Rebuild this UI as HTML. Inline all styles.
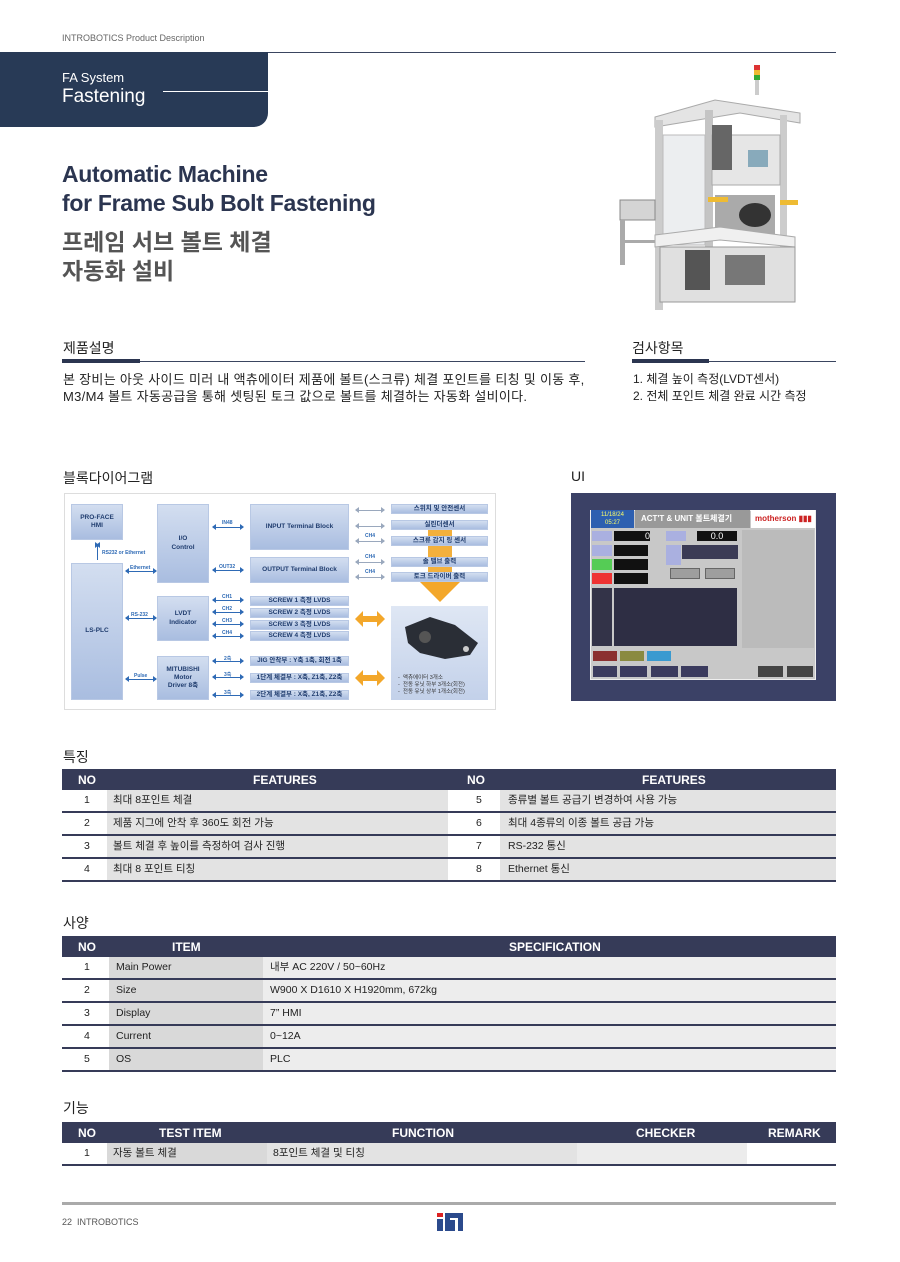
<!DOCTYPE html>
<html><head><meta charset="utf-8">
<style>
*{margin:0;padding:0;box-sizing:border-box}
body{width:900px;height:1262px;background:#fff;position:relative;overflow:hidden;font-family:"Liberation Sans","Noto Sans CJK KR",sans-serif;color:#222}
.a{position:absolute}
.h2{font-size:14px;color:#222}
.tb{position:absolute;left:62px;width:774px}
.th{background:#363b58;color:#fff;font-weight:bold;font-size:12px;height:21px;position:relative}
.th span{position:absolute;top:4px}
.row{position:relative;height:23px;border-bottom:2px solid #363b58;font-size:10.5px}
.row div{position:absolute;top:0;height:21px;line-height:21px}
.bx{position:absolute;background:linear-gradient(#d3def0,#a9bde0);border:1px solid #b8c8e4;color:#1f3c6e;font-weight:bold;font-size:6.5px;display:flex;align-items:center;justify-content:center;text-align:center;line-height:1.25}
.ar{position:absolute;height:1px;background:#2e6ab5}
.ar:before{content:"";position:absolute;left:-1px;top:-3px;border:3px solid transparent;border-right:4px solid #2e6ab5;border-left:0}
.ar:after{content:"";position:absolute;right:-1px;top:-3px;border:3px solid transparent;border-left:4px solid #2e6ab5;border-right:0}
.ag{background:#9aa8bd}
.ag:before{border-right-color:#9aa8bd}.ag:after{border-left-color:#9aa8bd}
.lb{position:absolute;font-size:5px;color:#2e6ab5;font-weight:bold}
.g{position:absolute;background:#9e9e9e;border:1px solid #666}
</style></head><body>

<div class="a" style="left:62px;top:33px;font-size:9px;color:#666">INTROBOTICS Product Description</div>
<div class="a" style="left:268px;top:52px;width:568px;height:1px;background:#3a4560"></div>
<div class="a" style="left:0;top:52px;width:268px;height:75px;background:#283a56;border-bottom-right-radius:14px"></div>
<div class="a" style="left:62px;top:70px;font-size:13px;color:#fff">FA System</div>
<div class="a" style="left:62px;top:86px;font-size:19px;color:#fff">Fastening</div>
<div class="a" style="left:163px;top:91px;width:105px;height:1px;background:#fff"></div>

<div class="a" style="left:62px;top:160px;font-size:23px;line-height:29px;color:#2b3550;font-weight:bold;letter-spacing:-0.3px">Automatic Machine<br>for Frame Sub Bolt Fastening</div>
<div class="a" style="left:62px;top:228px;font-size:23px;line-height:29px;color:#555;font-weight:bold">프레임 서브 볼트 체결<br>자동화 설비</div>

<!-- machine -->
<svg class="a" style="left:600px;top:55px" width="210" height="270">
<rect x="155" y="10" width="4" height="30" fill="#ccc"/><rect x="154" y="10" width="6" height="5" fill="#d33"/><rect x="154" y="15" width="6" height="5" fill="#eb3"/><rect x="154" y="20" width="6" height="5" fill="#3a3"/>
<polygon points="55,62 115,45 200,58 200,68 140,58 55,72" fill="#e4e4e4" stroke="#aaa"/>
<rect x="55" y="65" width="8" height="190" fill="#ccc"/>
<rect x="105" y="55" width="8" height="185" fill="#c4c4c4"/>
<rect x="180" y="60" width="7" height="145" fill="#ccc"/>
<rect x="63" y="80" width="42" height="110" fill="#eceef0" stroke="#bbb"/>
<rect x="112" y="80" width="68" height="50" fill="#e6e6e6" stroke="#aaa"/>
<rect x="148" y="95" width="20" height="17" fill="#8ab"/>
<rect x="112" y="70" width="20" height="45" fill="#666"/>
<rect x="115" y="140" width="60" height="40" fill="#aaa"/>
<ellipse cx="155" cy="160" rx="16" ry="12" fill="#333"/>
<rect x="108" y="142" width="20" height="5" fill="#eb3"/><rect x="180" y="145" width="18" height="5" fill="#eb3"/>
<polygon points="55,180 120,172 195,182 195,192 120,185 55,192" fill="#f0f0f0" stroke="#aaa"/>
<rect x="60" y="192" width="135" height="55" fill="#e0e0e0" stroke="#999"/>
<rect x="85" y="195" width="25" height="40" fill="#555"/>
<rect x="125" y="200" width="40" height="30" fill="#777"/>
<rect x="20" y="145" width="35" height="20" fill="#d4d4d4" stroke="#888"/>
<rect x="20" y="165" width="5" height="45" fill="#aaa"/><rect x="20" y="185" width="35" height="3" fill="#aaa"/>
</svg>

<!-- section 1 -->
<div class="a h2" style="left:63px;top:338px">제품설명</div>
<div class="a" style="left:62px;top:361px;width:523px;height:1px;background:#3a4560"></div>
<div class="a" style="left:62px;top:359px;width:78px;height:4px;background:#2b3550"></div>
<div class="a" style="left:632px;top:338px" ><span class="h2">검사항목</span></div>
<div class="a" style="left:632px;top:361px;width:204px;height:1px;background:#3a4560"></div>
<div class="a" style="left:632px;top:359px;width:77px;height:4px;background:#2b3550"></div>
<div class="a" style="left:63px;top:371px;font-size:13px;line-height:17px;color:#222;letter-spacing:0.3px;white-space:nowrap">본 장비는 아웃 사이드 미러 내 액츄에이터 제품에 볼트(스크류) 체결 포인트를 티칭 및 이동 후,<br>M3/M4 볼트 자동공급을 통해 셋팅된 토크 값으로 볼트를 체결하는 자동화 설비이다.</div>
<div class="a" style="left:633px;top:371px;font-size:12px;line-height:17px;color:#222">1. 체결 높이 측정(LVDT센서)<br>2. 전체 포인트 체결 완료 시간 측정</div>

<div class="a h2" style="left:63px;top:468px">블록다이어그램</div>
<div class="a h2" style="left:571px;top:468px">UI</div>

<!-- block diagram -->
<div class="a" style="left:64px;top:493px;width:432px;height:217px;border:1px solid #ddd;background:#fff"></div>
<div class="bx" style="left:71px;top:504px;width:52px;height:36px">PRO-FACE<br>HMI</div>
<div class="bx" style="left:71px;top:563px;width:52px;height:137px">LS-PLC</div>
<div class="bx" style="left:157px;top:504px;width:52px;height:79px">I/O<br>Control</div>
<div class="bx" style="left:157px;top:596px;width:52px;height:45px">LVDT<br>Indicator</div>
<div class="bx" style="left:157px;top:656px;width:52px;height:44px">MITUBISHI<br>Motor<br>Driver 8축</div>
<div class="bx" style="left:250px;top:504px;width:99px;height:46px">INPUT Terminal Block</div>
<div class="bx" style="left:250px;top:557px;width:99px;height:26px">OUTPUT Terminal Block</div>
<div class="bx" style="left:250px;top:596px;width:99px;height:10px">SCREW 1 측정 LVDS</div>
<div class="bx" style="left:250px;top:608px;width:99px;height:10px">SCREW 2 측정 LVDS</div>
<div class="bx" style="left:250px;top:620px;width:99px;height:10px">SCREW 3 측정 LVDS</div>
<div class="bx" style="left:250px;top:631px;width:99px;height:10px">SCREW 4 측정 LVDS</div>
<div class="bx" style="left:250px;top:656px;width:99px;height:10px">JIG 안착부 : Y축 1축, 회전 1축</div>
<div class="bx" style="left:250px;top:673px;width:99px;height:10px">1단계 체결부 : X축, Z1축, Z2축</div>
<div class="bx" style="left:250px;top:690px;width:99px;height:10px">2단계 체결부 : X축, Z1축, Z2축</div>
<div class="a" style="left:428px;top:530px;width:24px;height:50px;background:#f3b03c"></div>
<div class="a" style="left:418px;top:580px;width:0;height:0;border-left:22px solid transparent;border-right:22px solid transparent;border-top:22px solid #f3a72a"></div>
<div class="bx" style="left:391px;top:504px;width:97px;height:10px">스위치 및 안전센서</div>
<div class="bx" style="left:391px;top:520px;width:97px;height:10px">실린더센서</div>
<div class="bx" style="left:391px;top:536px;width:97px;height:10px">스크류 감지 링 센서</div>
<div class="bx" style="left:391px;top:557px;width:97px;height:10px">솔 밸브 출력</div>
<div class="bx" style="left:391px;top:572px;width:97px;height:10px">토크 드라이버 출력</div>
<div class="a" style="left:391px;top:606px;width:97px;height:94px;background:linear-gradient(#dfe7f4,#c3d1ea)"></div>
<svg class="a" style="left:400px;top:615px" width="80" height="48"><polygon points="5,12 30,2 55,10 78,28 70,40 45,44 20,38 8,28" fill="#2a2e36"/><circle cx="25" cy="22" r="6" fill="#555"/><circle cx="66" cy="34" r="3" fill="#ccc"/></svg>
<div class="a" style="left:398px;top:675px;font-size:5.5px;line-height:7px;color:#333">-&nbsp; 액츄에이터 3개소<br>-&nbsp; 전동 유닛 하부 3개소(회전)<br>-&nbsp; 전동 유닛 상부 1개소(회전)</div>
<svg class="a" style="left:355px;top:611px" width="30" height="16"><polygon points="0,8 8,0 8,5 22,5 22,0 30,8 22,16 22,11 8,11 8,16" fill="#f3a72a"/></svg>
<svg class="a" style="left:355px;top:670px" width="30" height="16"><polygon points="0,8 8,0 8,5 22,5 22,0 30,8 22,16 22,11 8,11 8,16" fill="#f3a72a"/></svg>
<div class="ar" style="left:97px;top:545px;width:1px;height:15px;background:#2e6ab5"></div>
<div class="lb" style="left:102px;top:550px">RS232 or Ethernet</div>
<div class="ar" style="left:126px;top:571px;width:30px"></div><div class="lb" style="left:130px;top:565px">Ethernet</div>
<div class="ar" style="left:126px;top:618px;width:30px"></div><div class="lb" style="left:131px;top:612px">RS-232</div>
<div class="ar" style="left:126px;top:679px;width:30px"></div><div class="lb" style="left:134px;top:673px">Pulse</div>
<div class="ar" style="left:213px;top:527px;width:30px"></div><div class="lb" style="left:222px;top:520px">IN48</div>
<div class="ar" style="left:213px;top:570px;width:30px"></div><div class="lb" style="left:219px;top:564px">OUT32</div>
<div class="ar" style="left:213px;top:600px;width:30px"></div><div class="lb" style="left:222px;top:594px">CH1</div>
<div class="ar" style="left:213px;top:612px;width:30px"></div><div class="lb" style="left:222px;top:606px">CH2</div>
<div class="ar" style="left:213px;top:624px;width:30px"></div><div class="lb" style="left:222px;top:618px">CH3</div>
<div class="ar" style="left:213px;top:636px;width:30px"></div><div class="lb" style="left:222px;top:630px">CH4</div>
<div class="ar" style="left:213px;top:661px;width:30px"></div><div class="lb" style="left:224px;top:655px">2축</div>
<div class="ar" style="left:213px;top:677px;width:30px"></div><div class="lb" style="left:224px;top:671px">3축</div>
<div class="ar" style="left:213px;top:695px;width:30px"></div><div class="lb" style="left:224px;top:689px">3축</div>
<div class="ar ag" style="left:356px;top:510px;width:28px"></div>
<div class="ar ag" style="left:356px;top:526px;width:28px"></div>
<div class="ar ag" style="left:356px;top:541px;width:28px"></div><div class="lb" style="left:365px;top:533px">CH4</div>
<div class="ar ag" style="left:356px;top:562px;width:28px"></div><div class="lb" style="left:365px;top:554px">CH4</div>
<div class="ar ag" style="left:356px;top:577px;width:28px"></div><div class="lb" style="left:365px;top:569px">CH4</div>

<!-- UI panel -->
<div class="a" style="left:571px;top:493px;width:265px;height:208px;background:#3b4166"></div>
<div class="a" style="left:590px;top:510px;width:226px;height:170px;background:#c8c8c8;border:1px solid #eee"></div>
<div class="a" style="left:591px;top:510px;width:43px;height:18px;background:#2d5fb0;color:#ff6;font-size:6px;text-align:center;line-height:8px;padding-top:1px">11/18/24<br>05:27</div>
<div class="a" style="left:635px;top:510px;width:115px;height:18px;background:#999;color:#fff;font-size:8px;font-weight:bold;line-height:18px;padding-left:6px">ACT'T &amp; UNIT 볼트체결기</div>
<div class="a" style="left:751px;top:510px;width:64px;height:18px;background:#fff;color:#c22;font-size:8px;font-weight:bold;line-height:18px;padding-left:4px">motherson <span style="color:#c22">▮▮▮</span></div>
<div class="a" style="left:592px;top:531px;width:20px;height:10px;background:#aab0e0"></div>
<div class="a" style="left:614px;top:531px;width:36px;height:10px;background:#111;color:#fff;font-size:9px;text-align:right;line-height:10px">0</div>
<div class="a" style="left:666px;top:531px;width:20px;height:10px;background:#aab0e0"></div>
<div class="a" style="left:697px;top:531px;width:40px;height:10px;background:#111;color:#fff;font-size:9px;text-align:center;line-height:10px">0.0</div>
<div class="a" style="left:592px;top:545px;width:20px;height:11px;background:#aab0e0"></div>
<div class="a" style="left:592px;top:559px;width:20px;height:11px;background:#5c5"></div>
<div class="a" style="left:592px;top:573px;width:20px;height:11px;background:#e33"></div>
<div class="a" style="left:614px;top:545px;width:34px;height:11px;background:#111"></div>
<div class="a" style="left:614px;top:559px;width:34px;height:11px;background:#111"></div>
<div class="a" style="left:614px;top:573px;width:34px;height:11px;background:#111"></div>
<div class="a" style="left:666px;top:545px;width:15px;height:20px;background:#aab0e0"></div>
<div class="a" style="left:682px;top:545px;width:56px;height:14px;background:#3b3b55"></div>
<div class="g" style="left:670px;top:568px;width:30px;height:11px"></div>
<div class="g" style="left:705px;top:568px;width:30px;height:11px"></div>
<div class="a" style="left:592px;top:588px;width:20px;height:58px;background:#333348"></div>
<div class="a" style="left:614px;top:588px;width:123px;height:58px;background:#2e2e44"></div>
<div class="a" style="left:742px;top:530px;width:72px;height:118px;background:#bbb"></div>
<div class="a" style="left:593px;top:651px;width:24px;height:10px;background:#8b3030"></div>
<div class="a" style="left:620px;top:651px;width:24px;height:10px;background:#8a8a40"></div>
<div class="a" style="left:647px;top:651px;width:24px;height:10px;background:#3a9ad0"></div>
<div class="a" style="left:593px;top:666px;width:24px;height:11px;background:#3b3b5e"></div>
<div class="a" style="left:620px;top:666px;width:27px;height:11px;background:#3b3b5e"></div>
<div class="a" style="left:651px;top:666px;width:27px;height:11px;background:#3b3b5e"></div>
<div class="a" style="left:681px;top:666px;width:27px;height:11px;background:#3b3b5e"></div>
<div class="a" style="left:758px;top:666px;width:25px;height:11px;background:#444"></div>
<div class="a" style="left:787px;top:666px;width:26px;height:11px;background:#444"></div>

<!-- 특징 -->
<div class="a h2" style="left:63px;top:747px">특징</div>
<div class="tb" style="top:769px">
 <div class="th"><span style="left:16px">NO</span><span style="left:191px">FEATURES</span><span style="left:405px">NO</span><span style="left:580px">FEATURES</span></div>
 <div class="row"><div style="left:22px">1</div><div style="left:45px;width:341px;background:#e3e3e3;padding-left:6px">최대 8포인트 체결</div><div style="left:414px">5</div><div style="left:438px;width:336px;background:#e3e3e3;padding-left:8px">종류별 볼트 공급기 변경하여 사용 가능</div></div>
 <div class="row"><div style="left:22px">2</div><div style="left:45px;width:341px;background:#e3e3e3;padding-left:6px">제품 지그에 안착 후 360도 회전 가능</div><div style="left:414px">6</div><div style="left:438px;width:336px;background:#e3e3e3;padding-left:8px">최대 4종류의 이종 볼트 공급 가능</div></div>
 <div class="row"><div style="left:22px">3</div><div style="left:45px;width:341px;background:#e3e3e3;padding-left:6px">볼트 체결 후 높이를 측정하여 검사 진행</div><div style="left:414px">7</div><div style="left:438px;width:336px;background:#e3e3e3;padding-left:8px">RS-232 통신</div></div>
 <div class="row"><div style="left:22px">4</div><div style="left:45px;width:341px;background:#e3e3e3;padding-left:6px">최대 8 포인트 티칭</div><div style="left:414px">8</div><div style="left:438px;width:336px;background:#e3e3e3;padding-left:8px">Ethernet 통신</div></div>
</div>

<!-- 사양 -->
<div class="a h2" style="left:63px;top:913px">사양</div>
<div class="tb" style="top:936px">
 <div class="th"><span style="left:16px">NO</span><span style="left:110px">ITEM</span><span style="left:447px">SPECIFICATION</span></div>
 <div class="row"><div style="left:22px">1</div><div style="left:47px;width:154px;background:#d9d9d9;padding-left:7px">Main Power</div><div style="left:201px;width:573px;background:#ededed;padding-left:7px">내부 AC 220V / 50~60Hz</div></div>
 <div class="row"><div style="left:22px">2</div><div style="left:47px;width:154px;background:#d9d9d9;padding-left:7px">Size</div><div style="left:201px;width:573px;background:#ededed;padding-left:7px">W900 X D1610 X H1920mm, 672kg</div></div>
 <div class="row"><div style="left:22px">3</div><div style="left:47px;width:154px;background:#d9d9d9;padding-left:7px">Display</div><div style="left:201px;width:573px;background:#ededed;padding-left:7px">7” HMI</div></div>
 <div class="row"><div style="left:22px">4</div><div style="left:47px;width:154px;background:#d9d9d9;padding-left:7px">Current</div><div style="left:201px;width:573px;background:#ededed;padding-left:7px">0~12A</div></div>
 <div class="row"><div style="left:22px">5</div><div style="left:47px;width:154px;background:#d9d9d9;padding-left:7px">OS</div><div style="left:201px;width:573px;background:#ededed;padding-left:7px">PLC</div></div>
</div>

<!-- 기능 -->
<div class="a h2" style="left:63px;top:1098px">기능</div>
<div class="tb" style="top:1122px">
 <div class="th"><span style="left:16px">NO</span><span style="left:97px">TEST ITEM</span><span style="left:330px">FUNCTION</span><span style="left:574px">CHECKER</span><span style="left:706px">REMARK</span></div>
 <div class="row"><div style="left:22px">1</div><div style="left:45px;width:160px;background:#d9d9d9;padding-left:6px">자동 볼트 체결</div><div style="left:205px;width:310px;background:#e3e3e3;padding-left:6px">8포인트 체결 및 티칭</div><div style="left:515px;width:170px;background:#ececec"></div></div>
</div>

<!-- footer -->
<div class="a" style="left:62px;top:1202px;width:774px;height:3px;background:#aaa"></div>
<div class="a" style="left:62px;top:1217px;font-size:9px;color:#555">22&nbsp; INTROBOTICS</div>
<div class="a" style="left:437px;top:1213px;width:6px;height:4px;background:#d22"></div>
<div class="a" style="left:437px;top:1219px;width:6px;height:12px;background:#2b4a8c"></div>
<div class="a" style="left:445px;top:1213px;width:18px;height:18px;border:5px solid #2b4a8c;border-bottom:0"></div>
<div class="a" style="left:450px;top:1220px;width:5px;height:11px;background:#2b4a8c"></div>
</body></html>
